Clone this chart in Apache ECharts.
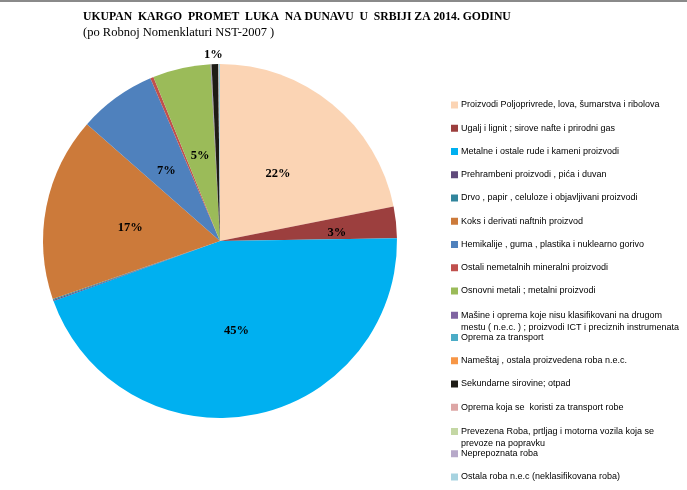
<!DOCTYPE html>
<html>
<head>
<meta charset="utf-8">
<script src="https://cdn.jsdelivr.net/npm/echarts@6/dist/echarts.min.js"></script>
<style>
html,body{margin:0;padding:0;background:#fff;}
#c{width:687px;height:490px;position:relative;}
#topline{position:absolute;left:0;top:0;width:687px;height:2px;background:#8a8a8a;}
</style>
</head>
<body>
<div id="c"></div>
<div id="topline"></div>
<script>
const titleText = 'UKUPAN  KARGO  PROMET  LUKA  NA DUNAVU  U  SRBIJI ZA 2014. GODINU';
const subtitleText = '(po Robnoj Nomenklaturi NST-2007 )';
const categories = [
  'Proizvodi Poljoprivrede, lova, šumarstva i ribolova',
  'Ugalj i lignit ; sirove nafte i prirodni gas',
  'Metalne i ostale rude i kameni proizvodi',
  'Prehrambeni proizvodi , pića i duvan',
  'Drvo , papir , celuloze i objavljivani proizvodi',
  'Koks i derivati naftnih proizvod',
  'Hemikalije , guma , plastika i nuklearno gorivo',
  'Ostali nemetalnih mineralni proizvodi',
  'Osnovni metali ; metalni proizvodi',
  'Mašine i oprema koje nisu klasifikovani na drugom\nmestu ( n.e.c. ) ; proizvodi ICT i preciznih instrumenata',
  'Oprema za transport',
  'Nameštaj , ostala proizvedena roba n.e.c.',
  'Sekundarne sirovine; otpad',
  'Oprema koja se  koristi za transport robe',
  'Prevezena Roba, prtljag i motorna vozila koja se\nprevoze na popravku',
  'Neprepoznata roba',
  'Ostala roba n.e.c (neklasifikovana roba)'
];
const values = [21.9, 2.9, 44.8, 0.1, 0.1, 16.8, 7.1, 0.3, 5.3, 0.05, 0.02, 0.02, 0.6, 0.02, 0.02, 0.02, 0.1];
const percentLabels = ['22%', '3%', '45%', '', '', '17%', '7%', '', '5%', '', '', '', '1%', '', '', '', ''];
const colors = ['#FBD4B4','#9C3F3E','#00B0F0','#604A7B','#31859C','#CC7A3A','#4F81BD','#C0504D','#9BBB59','#8064A2','#4BACC6','#F79646','#1E1C16','#DDA6A5','#C4D7A4','#B7A9C9','#A7D3E0'];

const data = categories.map((name, i) => {
  const item = {name: name, value: values[i], itemStyle: {color: colors[i]}};
  const txt = percentLabels[i];
  if (!txt) {
    item.label = {show: false};
  } else if (i === 12) {
    item.label = {show: true, position: 'outside', formatter: txt, offset: [13, -7]};
    item.labelLine = {show: false, length: 2, length2: 0};
  } else {
    item.label = {show: true, position: 'inside', formatter: txt, offset: [0, 4]};
    if (i === 1) item.label.offset = [26, 1];
    if (i === 2) item.label.offset = [0, 0];
  }
  return item;
});

// legend layout: rows at fixed pitch; two-line entries get their own legend block
const legendFirstY = 105, legendPitch = 23.25;
const legendGroups = [[0, 8], [9, 9], [10, 13], [14, 14], [15, 16]];
const legends = legendGroups.map(([a, b]) => {
  const twoLine = categories[a].indexOf('\n') >= 0;
  const markerY = legendFirstY + legendPitch * a;
  const lg = {
    orient: 'vertical',
    left: 451,
    top: twoLine ? markerY - 17 : markerY - 6,
    padding: 0,
    itemWidth: 7, itemHeight: 7,
    itemGap: legendPitch - 12,
    icon: 'rect',
    selectedMode: false,
    data: categories.slice(a, b + 1),
    textStyle: {
      fontFamily: 'Liberation Sans', fontSize: 9, color: '#000', lineHeight: 12,
      padding: [0, 0, 0, -2]
    }
  };
  if (twoLine) lg.formatter = name => '\n' + name;
  return lg;
});

const chart = echarts.init(document.getElementById('c'), null, {renderer: 'canvas'});
chart.setOption({
  animation: false,
  backgroundColor: '#fff',
  title: {
    text: titleText,
    subtext: subtitleText,
    left: 78, top: 6,
    itemGap: 3,
    textStyle: {fontFamily: 'Liberation Serif', fontWeight: 'bold', fontSize: 11.7, color: '#000'},
    subtextStyle: {fontFamily: 'Liberation Serif', fontSize: 12.5, color: '#000'}
  },
  legend: legends,
  series: [{
    type: 'pie',
    center: [220, 241],
    radius: [0, 177],
    startAngle: 90,
    clockwise: true,
    avoidLabelOverlap: false,
    data: data,
    itemStyle: {borderWidth: 0},
    label: {fontFamily: 'Liberation Serif', fontWeight: 'bold', fontSize: 12.5, color: '#000'},
    labelLine: {show: false}
  }]
});
</script>
</body>
</html>
